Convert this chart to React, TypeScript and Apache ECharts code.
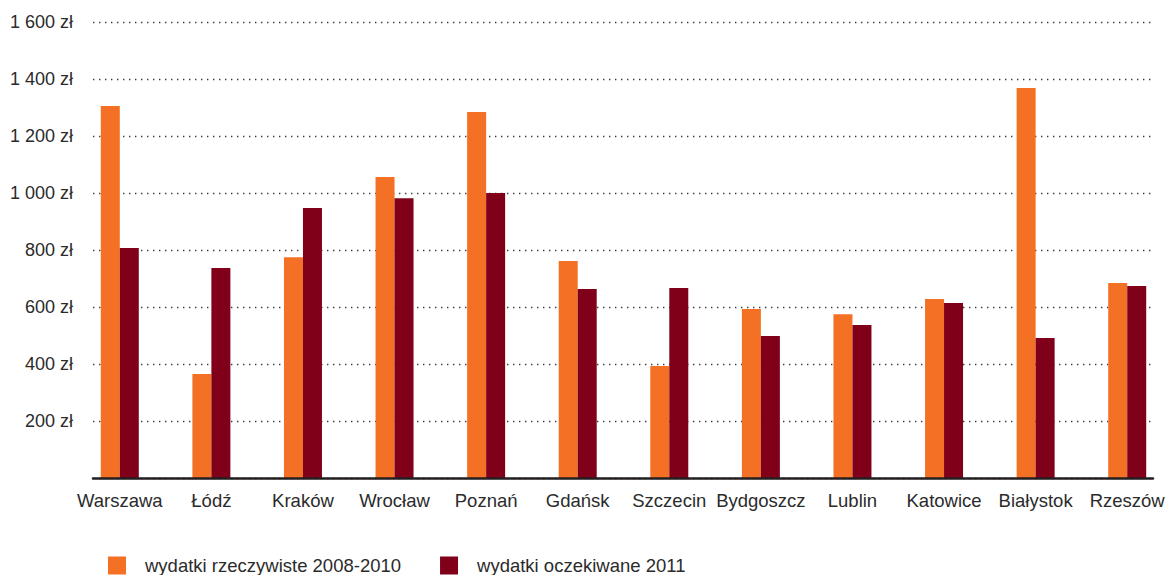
import React, { useEffect, useRef } from "react";
import * as echarts from "echarts";

const cities = [
  "Warszawa", "Łódź", "Kraków", "Wrocław", "Poznań", "Gdańsk",
  "Szczecin", "Bydgoszcz", "Lublin", "Katowice", "Białystok", "Rzeszów",
];
const actual20082010 = [1305, 365, 775, 1056, 1284, 761, 393, 593, 575, 628, 1368, 684];
const expected2011 = [807, 737, 947, 982, 1000, 663, 667, 498, 537, 614, 491, 674];
const yTicks = [200, 400, 600, 800, 1000, 1200, 1400, 1600];
const yTickLabels = ["200 zł", "400 zł", "600 zł", "800 zł", "1 000 zł", "1 200 zł", "1 400 zł", "1 600 zł"];

const seriesNames = ["wydatki rzeczywiste 2008-2010", "wydatki oczekiwane 2011"];
const ORANGE = "#F47024";
const MAROON = "#80001A";
const FONT = "'Liberation Sans', Arial, Helvetica, sans-serif";
const TEXT = "#2b2b2b";

export default function App() {
  const ref = useRef<HTMLDivElement>(null);

  useEffect(() => {
    if (!ref.current) return;
    const chart = echarts.init(ref.current, undefined, { renderer: "svg" });
    chart.setOption({
      animation: false,
      textStyle: { fontFamily: FONT },
      grid: [
        // value grid: tick labels, dotted rules and the baseline
        { left: 93, right: 20, top: 22, bottom: 97 },
        // bar grid: categories spread over a wider band
        { left: 74, width: 1100, top: 22, bottom: 97 },
      ],
      xAxis: [
        {
          gridIndex: 0,
          type: "value",
          min: 0,
          max: 1,
          axisLabel: { show: false },
          axisTick: { show: false },
          splitLine: { show: false },
          axisLine: { show: true, lineStyle: { color: "#231f20", width: 2.5 } },
          z: 5,
        },
        {
          gridIndex: 1,
          type: "category",
          data: cities,
          axisLine: { show: false },
          axisTick: { show: false },
          axisLabel: { fontSize: 18.5, color: TEXT, margin: 13, interval: 0, fontFamily: FONT },
        },
      ],
      yAxis: [
        {
          gridIndex: 0,
          type: "value",
          min: 0,
          max: 1600,
          interval: 200,
          axisLine: { show: false },
          axisTick: { show: false },
          axisLabel: {
            showMinLabel: false,
            fontSize: 18,
            color: TEXT,
            margin: 20,
            fontFamily: FONT,
            formatter: (v: number) => {
              const i = yTicks.indexOf(v);
              return i >= 0 ? yTickLabels[i] : "";
            },
          },
          splitLine: {
            show: true,
            lineStyle: { color: "#3a3a3a", width: 1.4, type: [1.4, 4.6] },
          },
        },
        {
          gridIndex: 1,
          type: "value",
          min: 0,
          max: 1600,
          interval: 200,
          show: false,
          splitLine: { show: false },
        },
      ],
      legend: {
        left: 108,
        top: 556,
        padding: 0,
        itemWidth: 18,
        itemHeight: 18,
        itemGap: 39,
        icon: "rect",
        data: seriesNames,
        textStyle: { fontSize: 18.5, color: TEXT, fontFamily: FONT, padding: [0, 0, 0, 14] },
      },
      series: [
        {
          name: seriesNames[0],
          type: "bar",
          xAxisIndex: 1,
          yAxisIndex: 1,
          data: actual20082010,
          barWidth: 19,
          barGap: "0%",
          itemStyle: { color: ORANGE },
        },
        {
          name: seriesNames[1],
          type: "bar",
          xAxisIndex: 1,
          yAxisIndex: 1,
          data: expected2011,
          barWidth: 19,
          barGap: "0%",
          itemStyle: { color: MAROON },
        },
      ],
    });
    return () => chart.dispose();
  }, []);

  return (
    <div
      ref={ref}
      style={{ position: "fixed", left: 0, top: 0, width: 1173, height: 575, background: "#fff" }}
    />
  );
}
